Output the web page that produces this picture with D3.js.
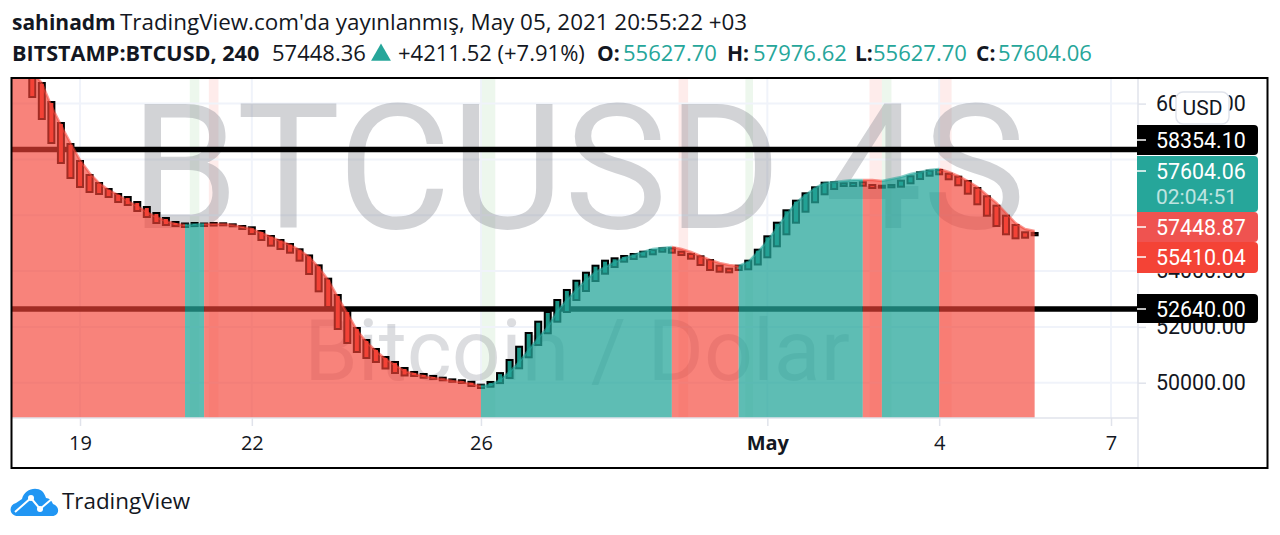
<!DOCTYPE html>
<html>
<head>
<meta charset="utf-8">
<script src="https://cdn.jsdelivr.net/npm/d3@7"></script>
<style>
    html, body { margin: 0; padding: 0; background: #ffffff; overflow: hidden; }
    text { font-family: "Open Sans", sans-serif; }
    .axisText { font-family: Roboto, sans-serif; }
</style>
</head>
<body>
<div id="chart"></div>
<script>
// bars are 4h, index 0 is 19 Apr 00:00
const firstBar = -8;
const candleOpen = [63530, 62995, 62280, 61560, 60738, 60057, 59305, 58552, 57943, 57442, 57155, 56940, 56761, 56653, 56474, 56295, 56080, 55901, 55758, 55579, 55614, 55704, 55722, 55711, 55675, 55614, 55568, 55435, 55256, 55113, 54969, 54780, 54560, 54205, 53727, 53142, 52569, 51960, 51530, 51208, 50921, 50742, 50527, 50384, 50312, 50241, 50179, 50119, 50086, 50033, 49810, 49856, 49986, 50169, 50516, 50910, 51351, 51770, 52186, 52533, 52963, 53286, 53643, 53905, 54145, 54336, 54432, 54514, 54600, 54693, 54815, 54693, 54611, 54529, 54396, 54192, 54085, 54038, 54063, 54235, 54493, 54887, 55317, 55733, 56127, 56464, 56750, 56940, 57048, 57048, 57180, 57083, 56987, 57001, 57023, 57144, 57298, 57417, 57621, 57488, 57381, 57227, 56976, 56679, 56342, 55983, 55650, 55389, 55364];
const candleClose = [62640, 61850, 61025, 60236, 59448, 58588, 57872, 57334, 57012, 56833, 56761, 56653, 56474, 56367, 56152, 55937, 55722, 55650, 55614, 55704, 55722, 55614, 55632, 55639, 55603, 55507, 55327, 55113, 54909, 54790, 54658, 54372, 53895, 53273, 52712, 51924, 51423, 51100, 50885, 50742, 50509, 50348, 50258, 50241, 50179, 50133, 50086, 50033, 49990, 49882, 49929, 50026, 50344, 50814, 51289, 51781, 52186, 52533, 52963, 53322, 53654, 53941, 54192, 54372, 54457, 54540, 54611, 54693, 54754, 54815, 54658, 54575, 54443, 54217, 54038, 53977, 53955, 54192, 54372, 54765, 55245, 55733, 56177, 56521, 56786, 57001, 57166, 57180, 57144, 57155, 57058, 56976, 57058, 57083, 57238, 57395, 57539, 57596, 57467, 57288, 57073, 56772, 56392, 55983, 55614, 55317, 55173, 55195, 55282];
const smoothLine = [63350, 62640, 61920, 61130, 60738, 59914, 59233, 58588, 57979, 57513, 57155, 56904, 56725, 56510, 56331, 56116, 55937, 55794, 55686, 55650, 55668, 55686, 55686, 55686, 55650, 55579, 55507, 55364, 55220, 55077, 54934, 54755, 54504, 54133, 53679, 53070, 52497, 51888, 51459, 51136, 50849, 50634, 50419, 50312, 50241, 50169, 50133, 50062, 50026, 49954, 49882, 49918, 50105, 50384, 50742, 51172, 51602, 51996, 52569, 52963, 53322, 53679, 53966, 54145, 54324, 54468, 54575, 54683, 54790, 54826, 54862, 54790, 54683, 54540, 54396, 54288, 54217, 54181, 54324, 54683, 55077, 55543, 56009, 56439, 56725, 56976, 57155, 57191, 57227, 57263, 57263, 57263, 57227, 57298, 57370, 57478, 57550, 57621, 57657, 57550, 57406, 57227, 57012, 56725, 56439, 56080, 55722, 55507, 55435];

const priceTicks = [60000, 58000, 56000, 54000, 52000, 50000];
const hiddenPriceTicks = [58000, 56000]; // covered by the price labels
const timeTickBars = [0, 18, 42, 72, 90, 108];
const timeTickLabels = ["19", "22", "26", "May", "4", "7"];
const levelPrices = [58354.10, 52640.00];

// background highlight columns, in bar index
const bandFrom = [11.5, 13.5, 42, 62.7, 69.7, 82.7, 84, 90];
const bandTo = [12.5, 14.5, 43.5, 63.7, 70.5, 84, 85, 91.3];
const bandUp = [true, false, true, false, true, false, true, false];

const GREEN = "#26a69a";
const RED = "#f44336";

const width = 1280, height = 535;
const plot = { left: 12, right: 1138, top: 79, bottom: 418, frameRight: 1268, frameBottom: 468 };

const svg = d3.select("#chart").append("svg")
    .attr("width", width)
    .attr("height", height)
    .style("display", "block");

const x = d3.scaleLinear().domain([0, 108]).range([80, 1111]);
const y = d3.scaleLinear().domain([50000, 60000]).range([382.7, 103.6]);

const bars = candleOpen.map((open, i) => ({
    bar: firstBar + i,
    open: open,
    close: candleClose[i],
    smooth: smoothLine[i],
    up: candleClose[i] >= open
}));

//clip everything in the pane
svg.append("clipPath")
    .attr("id", "paneClip")
    .append("rect")
    .attr("x", plot.left)
    .attr("y", plot.top)
    .attr("width", plot.right - plot.left)
    .attr("height", plot.bottom - plot.top);

const pane = svg.append("g").attr("clip-path", "url(#paneClip)");

//highlight columns
pane.append("g").selectAll("rect")
    .data(bandFrom)
    .join("rect")
    .attr("x", d => x(d))
    .attr("y", plot.top)
    .attr("width", (d, i) => x(bandTo[i]) - x(d))
    .attr("height", plot.bottom - plot.top)
    .style("fill", (d, i) => bandUp[i] ? "#4caf50" : RED)
    .style("opacity", 0.1);

//grid
pane.append("g").selectAll("line")
    .data(priceTicks)
    .join("line")
    .attr("x1", plot.left)
    .attr("x2", plot.right)
    .attr("y1", d => y(d))
    .attr("y2", d => y(d))
    .style("stroke", "#f0f3fa")
    .style("stroke-width", 2);

pane.append("g").selectAll("line")
    .data(timeTickBars)
    .join("line")
    .attr("x1", d => x(d))
    .attr("x2", d => x(d))
    .attr("y1", plot.top)
    .attr("y2", plot.bottom)
    .style("stroke", "#f0f3fa")
    .style("stroke-width", 2);

//watermark
pane.append("text")
    .attr("x", 578)
    .attr("y", 228)
    .attr("text-anchor", "middle")
    .style("font-family", "Roboto, sans-serif")
    .style("font-weight", 400)
    .style("font-size", "174px")
    .style("fill", "#787b86")
    .style("opacity", 0.33)
    .text("BTCUSD 4S");

pane.append("text")
    .attr("x", 577)
    .attr("y", 380)
    .attr("text-anchor", "middle")
    .style("font-family", "Roboto, sans-serif")
    .style("font-weight", 400)
    .style("font-size", "86px")
    .style("fill", "#787b86")
    .style("opacity", 0.25)
    .text("Bitcoin / Dolar");

//horizontal levels
pane.append("g").selectAll("line")
    .data(levelPrices)
    .join("line")
    .attr("x1", plot.left)
    .attr("x2", plot.right)
    .attr("y1", d => y(d))
    .attr("y2", d => y(d))
    .style("stroke", "#000000")
    .style("stroke-width", 5.5);

//candles
const barWidth = 6;
pane.append("g").selectAll("rect")
    .data(bars)
    .join("rect")
    .attr("x", d => x(d.bar) - barWidth / 2)
    .attr("y", d => y(Math.max(d.open, d.close)))
    .attr("width", barWidth)
    .attr("height", d => Math.abs(y(d.open) - y(d.close)))
    .style("fill", d => d.up ? "#1a9485" : "#ef4136")
    .style("stroke", "#000000")
    .style("stroke-width", 2);

//area runs, one colour per run, a run stops at the bar where the colour flips
const runs = [];
bars.forEach((d, i) => {
    const last = runs[runs.length - 1];
    if (last && last.up === d.up) {
        last.points.push(d);
    } else {
        if (last) last.points.push(d);
        runs.push({ up: d.up, points: [d] });
    }
});

const area = d3.area()
    .x(d => x(d.bar))
    .y0(plot.bottom)
    .y1(d => y(d.smooth));

const edge = d3.line()
    .x(d => x(d.bar))
    .y(d => y(d.smooth));

const areas = pane.append("g");
areas.selectAll("path.fill")
    .data(runs)
    .join("path")
    .attr("class", "fill")
    .attr("d", d => area(d.points))
    .style("fill", d => d.up ? GREEN : RED)
    .style("opacity", d => d.up ? 0.74 : 0.66);

areas.selectAll("path.edge")
    .data(runs)
    .join("path")
    .attr("class", "edge")
    .attr("d", d => edge(d.points))
    .style("fill", "none")
    .style("stroke", d => d.up ? GREEN : RED)
    .style("stroke-width", 2.5)
    .style("opacity", 0.55);

//axes
const priceFormat = d3.format(".2f");
const priceAxis = d3.axisRight(y)
    .tickValues(priceTicks)
    .tickSize(8)
    .tickPadding(10)
    .tickFormat(d => hiddenPriceTicks.includes(d) ? "" : priceFormat(d));

const priceG = svg.append("g")
    .attr("transform", `translate(${plot.right}, 0)`)
    .call(priceAxis);
priceG.select(".domain").remove();
priceG.selectAll("line").style("stroke", "#e0e3eb").style("stroke-width", 1.5);
priceG.selectAll("text")
    .attr("class", "axisText")
    .style("font-size", "21.4px")
    .style("fill", "#131722");

const timeAxis = d3.axisBottom(x)
    .tickValues(timeTickBars)
    .tickSize(8)
    .tickPadding(10)
    .tickFormat((d, i) => timeTickLabels[i]);

const timeG = svg.append("g")
    .attr("transform", `translate(0, ${plot.bottom})`)
    .call(timeAxis);
timeG.select(".domain").remove();
timeG.selectAll("line").style("stroke", "#e0e3eb").style("stroke-width", 1.5);
timeG.selectAll("text")
    .style("font-size", "20px")
    .style("font-family", "'Open Sans', sans-serif")
    .style("font-weight", (d, i) => timeTickLabels[i] === "May" ? 700 : 400)
    .style("fill", "#131722");

svg.append("line")
    .attr("x1", plot.left).attr("x2", plot.right)
    .attr("y1", plot.bottom).attr("y2", plot.bottom)
    .style("stroke", "#e0e3eb").style("stroke-width", 1.5);
svg.append("line")
    .attr("x1", plot.right).attr("x2", plot.right)
    .attr("y1", plot.top).attr("y2", plot.frameBottom)
    .style("stroke", "#e0e3eb").style("stroke-width", 1.5);

//price labels on the axis
const priceLabels = [
    { text: "58354.10", top: 125, bottom: 155, fill: "#000000" },
    { text: "57604.06", sub: "02:04:51", top: 156, bottom: 212, fill: "#26a69a" },
    { text: "57448.87", top: 212, bottom: 242, fill: "#ef5350" },
    { text: "55410.04", top: 242, bottom: 273, fill: "#f44336" },
    { text: "52640.00", top: 294, bottom: 323, fill: "#000000" }
];

const labelG = svg.append("g").selectAll("g")
    .data(priceLabels)
    .join("g");

labelG.append("path")
    .attr("d", d => `M1137,${d.top}H1254a4,4 0 0 1 4,4V${d.bottom - 4}a4,4 0 0 1 -4,4H1137Z`)
    .style("fill", d => d.fill);

labelG.append("line")
    .attr("x1", 1137).attr("x2", 1146)
    .attr("y1", d => d.top + 15).attr("y2", d => d.top + 15)
    .style("stroke", "#ffffff").style("stroke-width", 1.5);

labelG.append("text")
    .attr("class", "axisText")
    .attr("x", 1156)
    .attr("y", d => d.top + 15)
    .attr("dy", "0.36em")
    .style("font-size", "21.4px")
    .style("fill", "#ffffff")
    .text(d => d.text);

labelG.filter(d => d.sub).append("text")
    .attr("class", "axisText")
    .attr("x", 1156)
    .attr("y", d => d.top + 40)
    .attr("dy", "0.36em")
    .style("font-size", "21px")
    .style("fill", "#ffffff")
    .style("opacity", 0.7)
    .text(d => d.sub);

//USD badge
svg.append("rect")
    .attr("x", 1176).attr("y", 92)
    .attr("width", 53).attr("height", 32)
    .attr("rx", 7)
    .style("fill", "#ffffff")
    .style("stroke", "#e0e3eb")
    .style("stroke-width", 1.5);
svg.append("text")
    .attr("class", "axisText")
    .attr("x", 1202.5)
    .attr("y", 107)
    .attr("dy", "0.36em")
    .attr("text-anchor", "middle")
    .style("font-size", "21px")
    .style("fill", "#131722")
    .text("USD");

//frame
svg.append("rect")
    .attr("x", plot.left - 0.5)
    .attr("y", plot.top - 1)
    .attr("width", plot.frameRight - plot.left)
    .attr("height", plot.frameBottom - plot.top + 1)
    .style("fill", "none")
    .style("stroke", "#000000")
    .style("stroke-width", 2);

//header
const headerItems = [
    { x: 12, y: 30, text: "sahinadm", bold: true, size: 21, fill: "#131722" },
    { x: 120, y: 30, text: "TradingView.com'da yayınlanmış, May 05, 2021 20:55:22 +03", size: 22.4, fill: "#131722" },
    { x: 12, y: 61, text: "BITSTAMP:BTCUSD, 240", bold: true, size: 21.6, fill: "#131722" },
    { x: 272, y: 61, text: "57448.36", size: 22, fill: "#131722" },
    { x: 398, y: 61, text: "+4211.52 (+7.91%)", size: 22, fill: "#131722" },
    { x: 597, y: 61, text: "O:", bold: true, size: 21, fill: "#131722" },
    { x: 623, y: 61, text: "55627.70", size: 22, fill: GREEN },
    { x: 727, y: 61, text: "H:", bold: true, size: 21, fill: "#131722" },
    { x: 753, y: 61, text: "57976.62", size: 22, fill: GREEN },
    { x: 855, y: 61, text: "L:", bold: true, size: 21, fill: "#131722" },
    { x: 873, y: 61, text: "55627.70", size: 22, fill: GREEN },
    { x: 976, y: 61, text: "C:", bold: true, size: 21, fill: "#131722" },
    { x: 998, y: 61, text: "57604.06", size: 22, fill: GREEN }
];

svg.append("g").selectAll("text")
    .data(headerItems)
    .join("text")
    .attr("x", d => d.x)
    .attr("y", d => d.y)
    .style("font-size", d => d.size + "px")
    .style("font-weight", d => d.bold ? 700 : 400)
    .style("fill", d => d.fill)
    .text(d => d.text);

svg.append("path")
    .attr("d", d3.symbol(d3.symbolTriangle, 170))
    .attr("transform", "translate(381, 55)")
    .style("fill", GREEN);

//logo
const logo = svg.append("g").attr("transform", "translate(11, 488)");
logo.append("path")
    .attr("d", "M7,28 C-2,28 -3,17 5,15 C7,14 9,12 11,11 C13,2 24,-2 31,3 C33,5 34,7 35,10 C38,10 41,13 42,16 C49,18 49,28 41,28 Z")
    .style("fill", "#2196f3");
logo.append("path")
    .attr("d", "M4,24 L20,10 L29,21 L42,10")
    .style("fill", "none")
    .style("stroke", "#ffffff")
    .style("stroke-width", 2);
logo.append("circle").attr("cx", 20).attr("cy", 10).attr("r", 3).style("fill", "#ffffff");
logo.append("circle").attr("cx", 29).attr("cy", 21).attr("r", 3).style("fill", "#ffffff");

svg.append("text")
    .attr("x", 62)
    .attr("y", 509)
    .style("font-size", "22.4px")
    .style("fill", "#131722")
    .text("TradingView");
</script>
</body>
</html>
